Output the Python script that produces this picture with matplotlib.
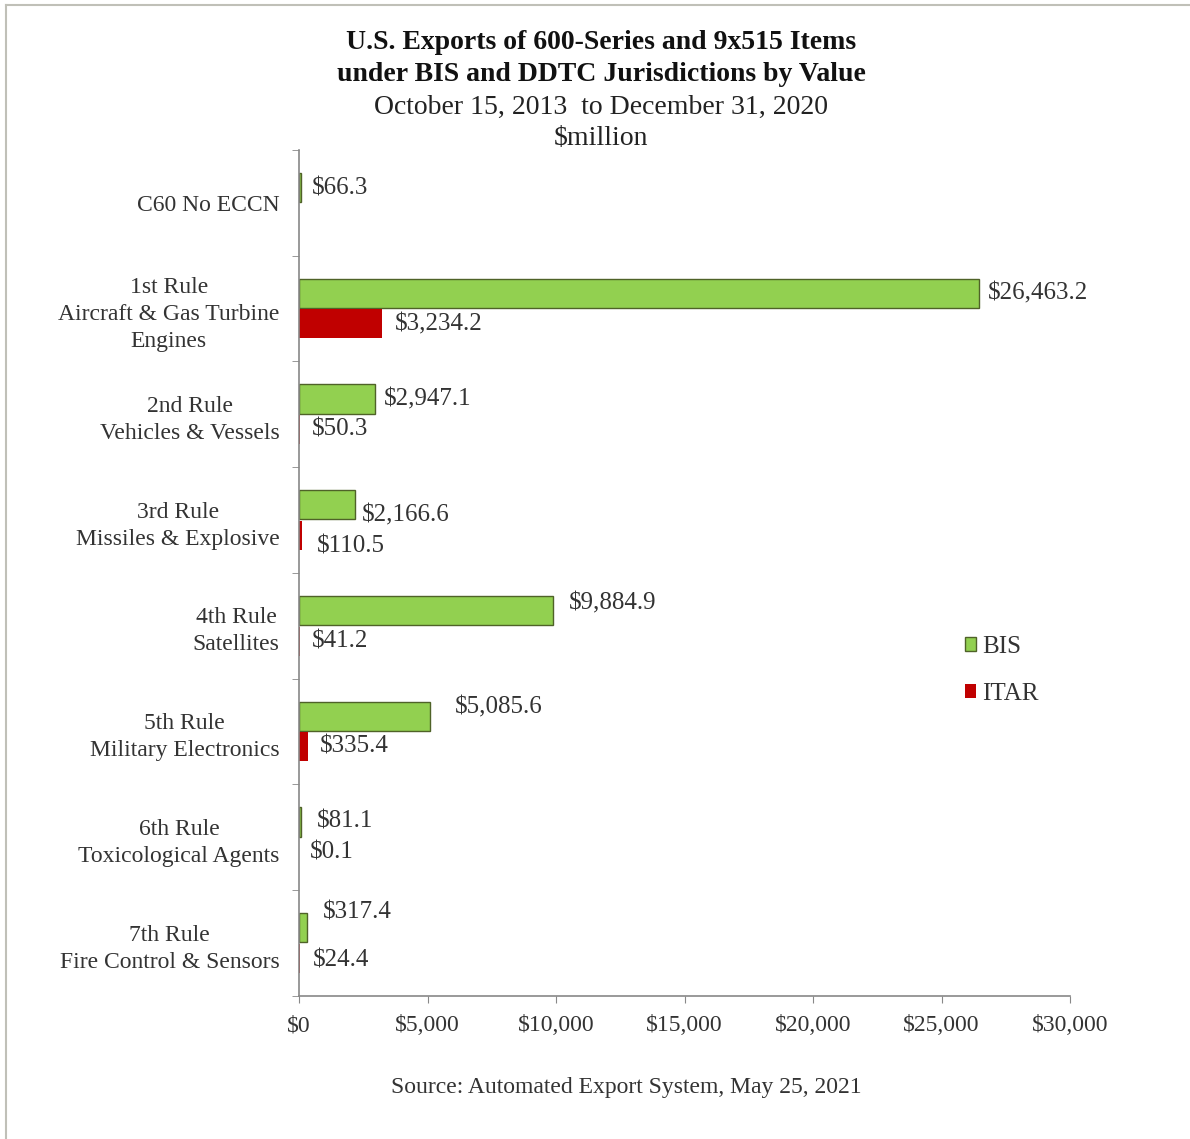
import numpy as np
import matplotlib
matplotlib.use("Agg")
import matplotlib.pyplot as plt
from matplotlib.lines import Line2D

plt.rcParams['font.family'] = ['Liberation Serif', 'DejaVu Serif']

categories = ["C60 No ECCN",
              "1st Rule\nAircraft & Gas Turbine\nEngines",
              "2nd Rule\nVehicles & Vessels",
              "3rd Rule\nMissiles & Explosive",
              "4th Rule\nSatellites",
              "5th Rule\nMilitary Electronics",
              "6th Rule\nToxicological Agents",
              "7th Rule\nFire Control & Sensors"]
bis = [66.3, 26463.2, 2947.1, 2166.6, 9884.9, 5085.6, 81.1, 317.4]
itar = [np.nan, 3234.2, 50.3, 110.5, 41.2, 335.4, 0.1, 24.4]
xticks = [0, 5000, 10000, 15000, 20000, 25000, 30000]

# label nudges in pixels (dx right, dy up), hand placed like the original
bis_nudge = [(11, -1), (9, 0), (9, 0), (7, -11), (16, 7), (25, 9), (16, 0), (16, 15)]
itar_nudge = [(0, 0), (13, 0), (12, 0), (15, -11), (12, 0), (12, 0), (11, 0), (13, -2)]

green = '#92D050'
red = '#C00000'
txt = '#333333'
axcol = '#888888'

fig = plt.figure(figsize=(11.9, 11.39), dpi=100)
ax = fig.add_axes([0.2513, 0.1256, 0.6479, 0.7427])

y = np.arange(len(categories))
h = 0.275
ax.barh(y - 0.145, bis, height=h, color=green, edgecolor='#4F6228', linewidth=1.0, label='BIS')
ax.barh(y + 0.145, np.nan_to_num(itar), height=h, color=red, linewidth=0, label='ITAR')

px = 0.72
for i in range(len(categories)):
    dx, dy = bis_nudge[i]
    ax.annotate("${:,.1f}".format(bis[i]), (bis[i], y[i] - 0.145), xytext=(dx * px, dy * px),
                textcoords='offset points', ha='left', va='center', fontsize=18, color=txt)
    if not np.isnan(itar[i]):
        dx, dy = itar_nudge[i]
        ax.annotate("${:,.1f}".format(itar[i]), (itar[i], y[i] + 0.145), xytext=(dx * px, dy * px),
                    textcoords='offset points', ha='left', va='center', fontsize=18, color=txt)

ax.set_xlim(0, 30000)
ax.set_ylim(len(categories) - 0.5, -0.5)
ax.set_xticks(xticks)
ax.set_xticklabels(["${:,}".format(v) for v in xticks], fontsize=17, color=txt)
ax.set_yticks(y)
ax.set_yticklabels(categories, fontsize=17, color=txt, multialignment='center', linespacing=1.38)
ax.set_yticks(np.arange(len(categories) + 1) - 0.5, minor=True)
ax.tick_params(axis='y', which='major', length=0, pad=14)
ax.tick_params(axis='y', which='minor', length=5, color=axcol, direction='out')
ax.tick_params(axis='x', length=5, color=axcol, pad=9)
for s in ['top', 'right']:
    ax.spines[s].set_visible(False)
for s in ['left', 'bottom']:
    ax.spines[s].set_color(axcol)
    ax.spines[s].set_linewidth(1.2)

ax.legend(loc='center left', bbox_to_anchor=(0.834, 0.385), frameon=False, fontsize=18,
          handlelength=0.45, handleheight=0.45, handletextpad=0.25, labelspacing=1.0,
          labelcolor=txt)

fig.text(0.505, 0.963, "U.S. Exports of 600-Series and 9x515 Items", ha='center', va='center',
         fontsize=20, fontweight='bold', color='#111111')
fig.text(0.505, 0.935, "under BIS and DDTC Jurisdictions by Value", ha='center', va='center',
         fontsize=20, fontweight='bold', color='#111111')
fig.text(0.505, 0.906, "October 15, 2013  to December 31, 2020", ha='center', va='center',
         fontsize=20, color='#222222')
fig.text(0.505, 0.878, "$million", ha='center', va='center', fontsize=20, color='#222222')
fig.text(0.526, 0.045, "Source: Automated Export System, May 25, 2021", ha='center', va='center',
         fontsize=17, color=txt)

# thin frame on the top and left edges only
top = 1 - 5 / 1139
left = 6 / 1190
fig.lines.append(Line2D([left, 1], [top, top], transform=fig.transFigure, color='#C0C0B8', linewidth=1.5))
fig.lines.append(Line2D([left, left], [0, top], transform=fig.transFigure, color='#C0C0B8', linewidth=1.5))

fig.savefig("out.png", dpi=100)
